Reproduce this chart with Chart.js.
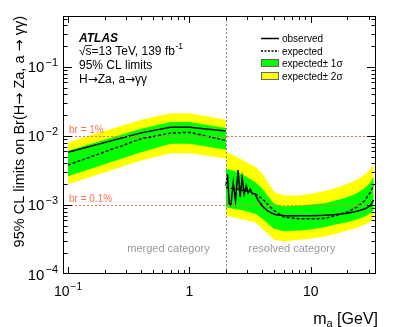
<!DOCTYPE html>
<html>
<head>
<meta charset="utf-8">
<script src="https://cdn.jsdelivr.net/npm/chart.js@4"></script>
<style>
  html, body { margin: 0; padding: 0; background: #fff; }
  canvas { display: block; }
</style>
</head>
<body>
<canvas id="limitChart" width="396" height="327"></canvas>
<script>
// DATA
const massMerged = [0.1, 0.4, 0.7, 1.0, 2.0];
const obsMerged = [0.0058, 0.0111, 0.0134, 0.0134, 0.0118];
const expMerged = [0.0038, 0.0091, 0.0110, 0.0113, 0.0086];
const plus1Merged = [0.0061, 0.0127, 0.0159, 0.0159, 0.0131];
const minus1Merged = [0.0026, 0.0058, 0.0077, 0.0077, 0.0063];
const plus2Merged = [0.0081, 0.0172, 0.0214, 0.0214, 0.0172];
const minus2Merged = [0.0020, 0.0044, 0.0056, 0.0056, 0.0047];

const massResolved = [2.0, 2.3, 2.6, 3.0, 3.5, 4.0, 4.5, 5.0, 6.0, 8.0, 10, 13, 16, 20, 24, 28, 31, 33];
const expResolved = [0.00181, 0.00173, 0.00166, 0.00159, 0.00145, 0.00123, 0.00098, 0.00083, 0.00067, 0.00063, 0.00063, 0.00064, 0.00070, 0.00079, 0.00093, 0.00116, 0.00154, 0.00192];
const plus1Resolved = [0.00334, 0.00316, 0.00289, 0.00253, 0.00214, 0.00172, 0.00130, 0.00104, 0.00095, 0.00098, 0.00102, 0.00106, 0.00116, 0.00130, 0.00148, 0.00177, 0.00214, 0.00259];
const minus1Resolved = [0.00093, 0.00088, 0.00085, 0.000805, 0.000745, 0.00063, 0.000522, 0.000452, 0.000418, 0.000427, 0.000442, 0.000477, 0.000522, 0.000564, 0.000616, 0.000681, 0.000761, 0.000832];
const plus2Resolved = [0.00600, 0.00530, 0.00470, 0.00409, 0.00354, 0.00283, 0.00203, 0.00154, 0.00137, 0.00137, 0.00145, 0.00159, 0.00177, 0.00203, 0.00232, 0.00277, 0.00334, 0.00404];
const minus2Resolved = [0.000705, 0.000666, 0.00063, 0.000596, 0.000564, 0.000452, 0.000374, 0.000313, 0.000299, 0.000313, 0.000323, 0.00035, 0.000382, 0.000427, 0.000467, 0.000522, 0.000576, 0.00063];

const massObsResolved = [2.0, 2.06, 2.13, 2.2, 2.3, 2.4, 2.52, 2.62, 2.72, 2.83, 2.94, 3.05, 3.17, 3.3, 3.47, 3.7, 4.07, 4.47, 5.07, 6.1, 8, 10, 13, 16, 20, 24, 28, 31, 33];
const obsResolved = [0.0019, 0.0028, 0.00105, 0.0010, 0.0021, 0.00116, 0.0032, 0.0013, 0.0025, 0.00145, 0.0019, 0.0015, 0.0017, 0.00145, 0.00145, 0.00116, 0.00093, 0.00081, 0.00073, 0.0007, 0.0007, 0.0007, 0.00071, 0.00073, 0.00076, 0.00081, 0.00088, 0.00098, 0.00119];

const brLines = [0.01, 0.001];
const brLabels = ["br = 1%", "br = 0.1%"];
const xMajorTicks = [0.1, 1, 10];
const xTickLabels = [["10", "\u22121"], ["1", ""], ["10", ""]];
const yMajorTicks = [1e-4, 1e-3, 1e-2, 1e-1];
const yTickLabels = [["10", "\u22124"], ["10", "\u22123"], ["10", "\u22122"], ["10", "\u22121"]];
const categoryBoundary = 2.0;

const FONT = "'Liberation Sans', Arial, Helvetica, sans-serif";
const SYM = "'DejaVu Sans', sans-serif";
const YELLOW = "#ffff00";
const GREEN = "#00ff00";
const BR_COLOR = "#ff7050";

function pts(xs, ys) {
  return xs.map((x, i) => ({ x: x, y: ys[i] }));
}

function line(xs, ys, dash) {
  return {
    data: pts(xs, ys),
    borderColor: "#000",
    borderWidth: 1.5,
    borderDash: dash || [],
    pointRadius: 0,
    fill: false,
    tension: 0
  };
}

function band(xs, ys, color, fillTo) {
  return {
    data: pts(xs, ys),
    borderWidth: 0,
    borderColor: "rgba(0,0,0,0)",
    backgroundColor: color,
    pointRadius: 0,
    fill: fillTo,
    tension: 0
  };
}

// first datasets are drawn on top
const datasets = [
  line(massMerged, obsMerged),
  line(massObsResolved, obsResolved),
  line(massMerged, expMerged, [3, 2]),
  line(massResolved, expResolved, [3, 2]),
  band(massMerged, plus1Merged, GREEN, "+1"),
  band(massMerged, minus1Merged, GREEN, false),
  band(massResolved, plus1Resolved, GREEN, "+1"),
  band(massResolved, minus1Resolved, GREEN, false),
  band(massMerged, plus2Merged, YELLOW, "+1"),
  band(massMerged, minus2Merged, YELLOW, false),
  band(massResolved, plus2Resolved, YELLOW, "+1"),
  band(massResolved, minus2Resolved, YELLOW, false)
];

// text made of pieces, arrows taken from a font with wider glyphs
function runs(text, size) {
  const out = [];
  let cur = "";
  for (const ch of text) {
    if (ch === "\u2192") {
      if (cur) out.push([cur, size + "px " + FONT]);
      out.push([ch, size + "px " + SYM]);
      cur = "";
    } else {
      cur += ch;
    }
  }
  if (cur) out.push([cur, size + "px " + FONT]);
  return out;
}

function drawRuns(ctx, parts, x, y, align) {
  let total = 0;
  parts.forEach(p => { ctx.font = p[1]; total += ctx.measureText(p[0]).width; });
  let x0 = x;
  if (align === "right") x0 = x - total;
  if (align === "center") x0 = x - total / 2;
  ctx.textAlign = "left";
  parts.forEach(p => {
    ctx.font = p[1];
    ctx.fillText(p[0], x0, y);
    x0 += ctx.measureText(p[0]).width;
  });
}

function powText(ctx, base, exp, x, y, size, align) {
  ctx.font = size + "px " + FONT;
  const wb = ctx.measureText(base).width;
  const es = Math.round(size * 0.72);
  ctx.font = es + "px " + FONT;
  const we = exp ? ctx.measureText(exp).width + 1 : 0;
  const total = wb + we;
  let x0 = x;
  if (align === "center") x0 = x - total / 2;
  if (align === "right") x0 = x - total;
  ctx.textAlign = "left";
  ctx.textBaseline = "alphabetic";
  ctx.font = size + "px " + FONT;
  ctx.fillText(base, x0, y);
  if (exp) {
    ctx.font = es + "px " + FONT;
    ctx.fillText(exp, x0 + wb + 1, y - size * 0.42);
  }
}

const decorPlugin = {
  id: "decor",
  afterDraw(chart) {
    const ctx = chart.ctx;
    const a = chart.chartArea;
    const xs = chart.scales.x;
    const ys = chart.scales.y;
    ctx.save();

    // reference lines
    ctx.strokeStyle = BR_COLOR;
    ctx.lineWidth = 1.2;
    ctx.setLineDash([2, 2]);
    brLines.forEach((v, i) => {
      const py = Math.round(ys.getPixelForValue(v)) + 0.5;
      ctx.beginPath();
      ctx.moveTo(a.left, py);
      ctx.lineTo(a.right, py);
      ctx.stroke();
      ctx.fillStyle = BR_COLOR;
      ctx.font = "10px " + FONT;
      ctx.textAlign = "left";
      ctx.textBaseline = "alphabetic";
      ctx.fillText(brLabels[i], a.left + 6, py - 3.5);
    });

    // category separator
    ctx.strokeStyle = "#888";
    ctx.lineWidth = 1;
    ctx.setLineDash([2, 2]);
    const bx = Math.round(xs.getPixelForValue(categoryBoundary)) + 0.5;
    ctx.beginPath();
    ctx.moveTo(bx, a.top);
    ctx.lineTo(bx, a.bottom);
    ctx.stroke();
    ctx.setLineDash([]);

    // frame
    ctx.strokeStyle = "#000";
    ctx.lineWidth = 1;
    ctx.strokeRect(a.left + 0.5, a.top + 0.5, a.right - a.left - 1, a.bottom - a.top - 1);

    // ticks (inside, all four sides)
    ctx.beginPath();
    for (let k = -2; k <= 2; k++) {
      for (let j = 1; j <= 9; j++) {
        const v = j * Math.pow(10, k);
        if (v > xs.min && v < xs.max) {
          const px = Math.round(xs.getPixelForValue(v)) + 0.5;
          const len = j === 1 ? 7 : 4;
          ctx.moveTo(px, a.bottom);
          ctx.lineTo(px, a.bottom - len);
          ctx.moveTo(px, a.top);
          ctx.lineTo(px, a.top + len);
        }
      }
    }
    for (let k = -5; k <= 0; k++) {
      for (let j = 1; j <= 9; j++) {
        const v = j * Math.pow(10, k);
        if (v > ys.min * 1.0001 && v < ys.max) {
          const py = Math.round(ys.getPixelForValue(v)) + 0.5;
          const len = j === 1 ? 9 : 4.5;
          ctx.moveTo(a.left, py);
          ctx.lineTo(a.left + len, py);
          ctx.moveTo(a.right, py);
          ctx.lineTo(a.right - len, py);
        }
      }
    }
    ctx.stroke();

    // tick labels
    ctx.fillStyle = "#000";
    xMajorTicks.forEach((v, i) => {
      const px = xs.getPixelForValue(v);
      powText(ctx, xTickLabels[i][0], xTickLabels[i][1], px, 296, 14, "center");
    });
    yMajorTicks.forEach((v, i) => {
      const py = ys.getPixelForValue(v);
      powText(ctx, yTickLabels[i][0], yTickLabels[i][1], 58, py + 5.5, 15, "right");
    });

    // axis titles
    ctx.font = "16px " + FONT;
    ctx.textBaseline = "alphabetic";
    const t1 = " [GeV]";
    const wT1 = ctx.measureText(t1).width;
    const wM = ctx.measureText("m").width;
    ctx.font = "11px " + FONT;
    const wA = ctx.measureText("a").width;
    const xr = 378;
    ctx.font = "16px " + FONT;
    ctx.textAlign = "left";
    ctx.fillText(t1, xr - wT1, 324);
    ctx.font = "11px " + FONT;
    ctx.fillText("a", xr - wT1 - wA, 327);
    ctx.font = "16px " + FONT;
    ctx.fillText("m", xr - wT1 - wA - wM, 324);

    ctx.save();
    ctx.translate(20, 16);
    ctx.rotate(-Math.PI / 2);
    ctx.textBaseline = "middle";
    drawRuns(ctx, runs("95% CL limits on Br(H\u2192 Za, a \u2192 \u03b3\u03b3)", 14.5), 0, 0, "right");
    ctx.restore();

    // ATLAS label block
    ctx.textAlign = "left";
    ctx.textBaseline = "alphabetic";
    ctx.font = "italic bold 12px " + FONT;
    ctx.fillText("ATLAS", 79, 41.5);
    ctx.font = "12px " + FONT;
    const sq = "\u221A";
    ctx.fillText(sq, 79, 54.5);
    const wsq = ctx.measureText(sq).width;
    ctx.fillText("s", 79 + wsq, 54.5);
    const ws = ctx.measureText("s").width;
    ctx.fillRect(79 + wsq - 0.5, 45, ws + 1, 0.8);
    const rest = "=13 TeV, 139 fb";
    ctx.fillText(rest, 79 + wsq + ws, 54.5);
    const wr = ctx.measureText(rest).width;
    ctx.font = "8.5px " + FONT;
    ctx.fillText("-1", 79 + wsq + ws + wr + 0.5, 49);
    ctx.font = "12px " + FONT;
    ctx.fillText("95% CL limits", 79, 68.5);
    drawRuns(ctx, runs("H\u2192Za, a\u2192\u03b3\u03b3", 12), 79, 82.5, "left");

    // legend
    const lx = 261, lw = 18, tx = 282;
    ctx.lineWidth = 1.5;
    ctx.strokeStyle = "#000";
    ctx.beginPath();
    ctx.moveTo(lx, 38.5);
    ctx.lineTo(lx + lw, 38.5);
    ctx.stroke();
    ctx.setLineDash([2, 1.5]);
    ctx.beginPath();
    ctx.moveTo(lx, 51);
    ctx.lineTo(lx + lw, 51);
    ctx.stroke();
    ctx.setLineDash([]);
    ctx.lineWidth = 1;
    ctx.strokeStyle = "#666";
    ctx.fillStyle = GREEN;
    ctx.fillRect(lx, 59, lw, 7);
    ctx.strokeRect(lx + 0.5, 59.5, lw - 1, 7);
    ctx.fillStyle = YELLOW;
    ctx.fillRect(lx, 72, lw, 7);
    ctx.strokeRect(lx + 0.5, 72.5, lw - 1, 7);
    ctx.fillStyle = "#000";
    ctx.font = "10px " + FONT;
    ctx.textAlign = "left";
    ctx.fillText("observed", tx, 41.5);
    ctx.fillText("expected", tx, 54.5);
    ctx.fillText("expected\u00b1 1\u03c3", tx, 66.5);
    ctx.fillText("expected\u00b1 2\u03c3", tx, 79.5);

    // category labels
    ctx.fillStyle = "#999";
    ctx.font = "11px " + FONT;
    ctx.textAlign = "center";
    ctx.fillText("merged category", 168.5, 251.5);
    ctx.fillText("resolved category", 292, 251.5);

    ctx.restore();
  }
};

new Chart(document.getElementById("limitChart"), {
  type: "line",
  data: { datasets: datasets },
  options: {
    responsive: false,
    animation: false,
    events: [],
    layout: { padding: { left: 63, right: 20, top: 16, bottom: 53 } },
    plugins: {
      legend: { display: false },
      tooltip: { enabled: false }
    },
    scales: {
      x: { type: "logarithmic", min: 0.0909, max: 34.5, display: false },
      y: { type: "logarithmic", min: 1e-4, max: 0.548, display: false }
    }
  },
  plugins: [decorPlugin]
});
</script>
</body>
</html>
